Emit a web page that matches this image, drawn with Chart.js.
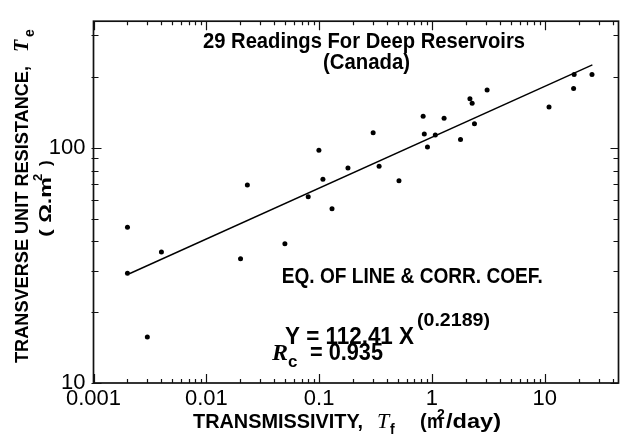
<!DOCTYPE html>
<html>
<head>
<meta charset="utf-8">
<script src="https://cdn.jsdelivr.net/npm/chart.js@4.4.1/dist/chart.umd.min.js"></script>
<style>
  html, body { margin: 0; padding: 0; background: #fff; }
</style>
</head>
<body>
<canvas id="chart" width="621" height="441"></canvas>
<script>
// values (log-log)
const transmissivity = [0.002, 0.002, 0.003, 0.004, 0.0201, 0.0231, 0.0497, 0.080, 0.0995, 0.108,
                        0.130, 0.180, 0.301, 0.340, 0.510, 0.835, 0.855, 0.912, 1.07, 1.28,
                        1.79, 2.17, 2.27, 2.38, 3.08, 10.9, 18.0, 18.2, 26.2];
const resistance = [45.9, 29.3, 15.7, 36.0, 33.7, 69.4, 39.1, 61.9, 97.5, 73.5,
                    55.0, 82.0, 115.9, 83.5, 72.4, 136.0, 114.4, 100.7, 113.3, 133.5,
                    108.4, 161.6, 154.5, 126.4, 176.0, 149.0, 178.6, 205.0, 205.0];
// fitted line Y = 112.41 X^0.2189, end points as drawn
const fitX = [0.0021, 26.4];
const fitY = [29.2, 225];

const xMin = 0.001, xMax = 45;
const yMin = 10, yMax = 345;
const xMajorTicks = [0.001, 0.01, 0.1, 1, 10];
const yMajorTicks = [10, 100];
const xTickLabels = ['0.001', '0.01', '0.1', '1', '10'];
const yTickLabels = ['10', '100'];

const SANS = '"Liberation Sans", Arial, sans-serif';
const SERIF = '"Liberation Serif", "Times New Roman", serif';

function minorTicks(decades, max) {
    const out = [];
    decades.forEach(d => {
        for (let k = 2; k <= 9; k++) {
            if (k * d <= max) out.push(k * d);
        }
    });
    return out;
}

// text helper: optional target width squeezes the text horizontally
function put(ctx, s, x, y, font, w, align) {
    ctx.font = font;
    const m = ctx.measureText(s).width;
    const k = w ? w / m : 1;
    ctx.save();
    ctx.translate(x, y);
    ctx.scale(k, 1);
    ctx.textAlign = 'left';
    ctx.textBaseline = 'alphabetic';
    ctx.fillText(s, align === 'center' ? -m / 2 : 0, 0);
    ctx.restore();
}

const frameTicks = {
    id: 'frameTicks',
    afterDraw(chart) {
        const ctx = chart.ctx;
        const a = chart.chartArea;
        const xs = chart.scales.x, ys = chart.scales.y;
        ctx.save();
        ctx.strokeStyle = '#111';
        ctx.lineWidth = 1.7;
        ctx.strokeRect(a.left, a.top, a.right - a.left, a.bottom - a.top);

        ctx.lineWidth = 1.2;
        ctx.beginPath();
        const tickX = (v, len) => {
            const px = Math.round(xs.getPixelForValue(v)) + 0.5;
            ctx.moveTo(px, a.bottom); ctx.lineTo(px, a.bottom - len);
            ctx.moveTo(px, a.top); ctx.lineTo(px, a.top + len);
        };
        const tickY = (v, len) => {
            const py = Math.round(ys.getPixelForValue(v)) + 0.5;
            ctx.moveTo(a.left - 2, py); ctx.lineTo(a.left + len, py);
            ctx.moveTo(a.right, py); ctx.lineTo(a.right - len, py);
        };
        minorTicks(xMajorTicks, xMax).forEach(v => tickX(v, 4));
        xMajorTicks.forEach(v => tickX(v, 9));
        minorTicks(yMajorTicks, yMax).forEach(v => tickY(v, 5));
        yMajorTicks.forEach(v => tickY(v, 8));
        ctx.stroke();

        ctx.fillStyle = '#000';
        // annotations inside the plot
        put(ctx, '29 Readings For Deep Reservoirs', 364, 48, `bold 22px ${SANS}`, 322, 'center');
        put(ctx, '(Canada)', 366.5, 69, `bold 22px ${SANS}`, 87, 'center');
        put(ctx, 'EQ. OF LINE & CORR. COEF.', 281.7, 283.3, `bold 22px ${SANS}`, 261);
        put(ctx, 'Y = 112.41 X', 285, 344, `bold 23px ${SANS}`, 129);
        put(ctx, '(0.2189)', 417, 326, `bold 18px ${SANS}`, 73);
        put(ctx, 'R', 272, 360, `bold italic 24px ${SERIF}`);
        put(ctx, 'c', 288, 367, `bold 17px ${SANS}`);
        put(ctx, '= 0.935', 310, 360, `bold 23px ${SANS}`, 73);

        // x axis title
        put(ctx, 'TRANSMISSIVITY,', 193, 428, `bold 20px ${SANS}`, 170);
        put(ctx, 'T', 377, 428, `italic 22px ${SERIF}`);
        put(ctx, 'f', 390, 434, `bold 14px ${SANS}`);
        put(ctx, '(', 420, 428, `bold 20px ${SANS}`);
        put(ctx, 'm', 427, 428, `bold 20px ${SANS}`, 16);
        put(ctx, '2', 437, 419, `bold 14px ${SANS}`);
        put(ctx, '/day)', 446, 428, `bold 20px ${SANS}`, 55);

        // y axis title, rotated
        ctx.save();
        ctx.translate(28, 363);
        ctx.rotate(-Math.PI / 2);
        put(ctx, 'TRANSVERSE UNIT RESISTANCE,', 0, 0, `bold 18px ${SANS}`, 297);
        put(ctx, 'T', 311, 0, `bold italic 20px ${SERIF}`);
        put(ctx, 'e', 326, 6, `bold 14px ${SANS}`);
        ctx.restore();

        ctx.save();
        ctx.translate(51, 237);
        ctx.rotate(-Math.PI / 2);
        put(ctx, '( Ω.m', 0, 0, `bold 17px ${SANS}`, 60);
        put(ctx, '2', 56, -9, `bold 13px ${SANS}`);
        put(ctx, ')', 71, 0, `bold 17px ${SANS}`);
        ctx.restore();
        ctx.restore();
    }
};

const points = transmissivity.map((x, i) => ({ x: x, y: resistance[i] }));
const fitLine = fitX.map((x, i) => ({ x: x, y: fitY[i] }));

new Chart(document.getElementById('chart'), {
    type: 'scatter',
    data: {
        datasets: [{
            data: points,
            pointRadius: 2.5,
            pointHoverRadius: 2.5,
            backgroundColor: '#000',
            borderWidth: 0
        }, {
            type: 'line',
            data: fitLine,
            borderColor: '#000',
            borderWidth: 1.4,
            pointRadius: 0,
            fill: false
        }]
    },
    options: {
        responsive: false,
        animation: false,
        events: [],
        layout: { padding: { top: 13.5, right: 0, bottom: 0, left: 0 } },
        plugins: { legend: { display: false }, tooltip: { enabled: false } },
        scales: {
            x: {
                type: 'logarithmic',
                min: xMin,
                max: xMax,
                grid: { display: false, drawTicks: false },
                border: { display: false },
                afterBuildTicks: s => { s.ticks = xMajorTicks.map(v => ({ value: v })); },
                afterFit: s => { s.height = 58; },
                ticks: {
                    color: '#000',
                    padding: 3,
                    maxRotation: 0,
                    autoSkip: false,
                    font: { family: SANS, size: 22 },
                    callback: v => xTickLabels[xMajorTicks.indexOf(v)]
                }
            },
            y: {
                type: 'logarithmic',
                min: yMin,
                max: yMax,
                grid: { display: false, drawTicks: false },
                border: { display: false },
                afterBuildTicks: s => { s.ticks = yMajorTicks.map(v => ({ value: v })); },
                afterFit: s => { s.width = 93.5; },
                ticks: {
                    color: '#000',
                    padding: 8,
                    autoSkip: false,
                    font: { family: SANS, size: 22 },
                    callback: v => yTickLabels[yMajorTicks.indexOf(v)]
                }
            }
        }
    },
    plugins: [frameTicks]
});
</script>
</body>
</html>
